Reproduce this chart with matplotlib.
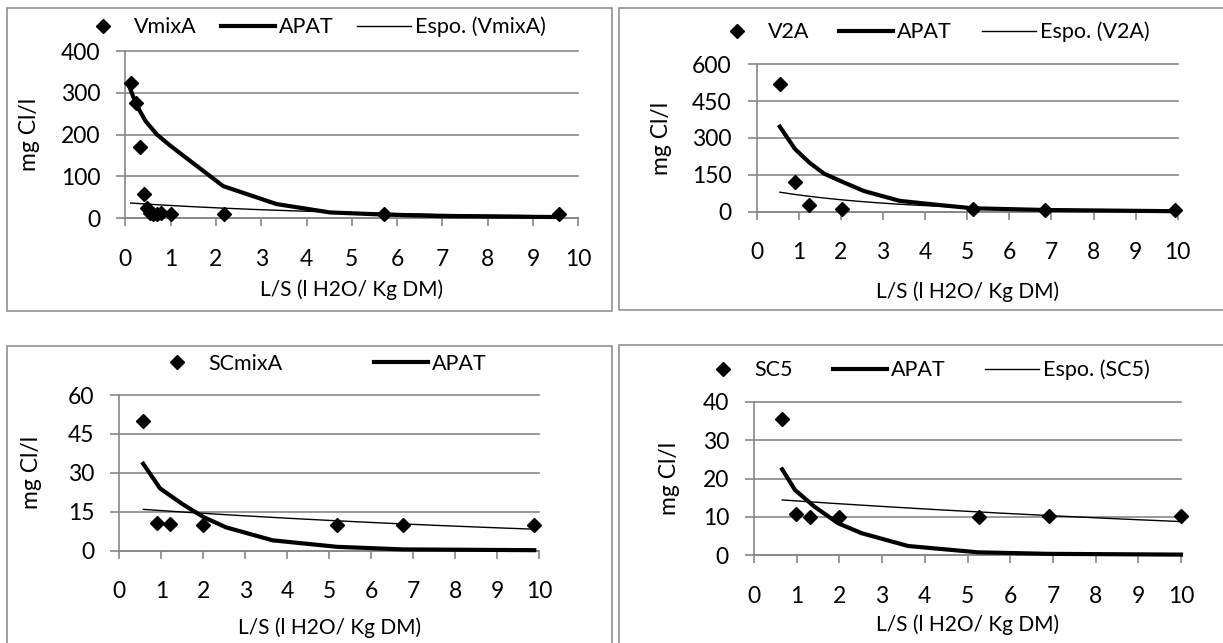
import numpy as np
import matplotlib
matplotlib.use("Agg")
import matplotlib.pyplot as plt
from matplotlib.patches import Rectangle

W, H = 1223, 643
GRID = "#878787"
FS_TICK = 16.5
FS_LAB = 15
FS_YLAB = 16.5
FS_LEG = 15.5

plt.rcParams['font.family'] = ['Lato', 'DejaVu Sans']

# VmixA
vmix_x = [0.12, 0.24, 0.32, 0.42, 0.49, 0.55, 0.62, 0.70, 0.78, 1.0, 2.17, 5.7, 9.58]
vmix_y = [324, 275, 170, 57, 24, 12, 10, 10, 12, 10, 10, 10, 10]
vmix_apat_x = [0.08, 0.24, 0.45, 0.7, 1.0, 2.16, 3.34, 4.52, 5.7, 7.0, 9.6]
vmix_apat_y = [318, 272, 232, 200, 173, 77, 34, 14, 9, 5, 3]

# V2A
v2a_x = [0.55, 0.91, 1.25, 2.03, 5.13, 6.85, 9.94]
v2a_y = [518, 120, 27, 11, 10, 7, 7]
v2a_apat_x = [0.55, 0.91, 1.25, 1.6, 2.03, 2.55, 3.4, 4.35, 5.13, 6.85, 9.94]
v2a_apat_y = [346, 255, 200, 155, 122, 84, 44, 27, 14, 7, 2]

# SCmixA
scmix_x = [0.57, 0.89, 1.21, 2.0, 5.18, 6.75, 9.88]
scmix_y = [50, 10.5, 10.2, 10, 10, 10, 10]
scmix_apat_x = [0.57, 0.97, 1.5, 2.0, 2.54, 3.65, 5.18, 6.75, 9.88]
scmix_apat_y = [33.5, 24, 18, 13, 9, 4, 1.5, 0.5, 0.2]

# SC5
sc5_x = [0.66, 0.98, 1.30, 1.98, 5.28, 6.92, 10.0]
sc5_y = [35.5, 10.6, 10.0, 10.0, 10.0, 10.1, 10.1]
sc5_apat_x = [0.66, 0.96, 1.42, 1.97, 2.52, 3.61, 5.25, 6.9, 10.0]
sc5_apat_y = [22.4, 17, 12.6, 8.3, 5.7, 2.35, 0.7, 0.3, 0.1]

xlabel = "L/S (l H2O/ Kg DM)"
ylabel = "mg Cl/l"


def px_rect(x0, y0, x1, y1):
    return [x0 / W, 1 - y1 / H, (x1 - x0) / W, (y1 - y0) / H]


def fpt(x, y):
    return (x / W, 1 - y / H)


def expo_trend(x, y):
    # exponential trendline: least squares on ln(y)
    b, a = np.polyfit(x, np.log(y), 1)
    xs = np.linspace(min(x), max(x), 200)
    return xs, np.exp(a + b * xs)


em = FS_LEG * 100 / 72  # legend font size in px

panels = [
    dict(name="VmixA", x=vmix_x, y=vmix_y, ax_=vmix_apat_x, ay=vmix_apat_y,
         yticks=[0, 100, 200, 300, 400], box=(125.3, 51, 578.3, 218.3),
         frame=(7, 8, 612, 311), trend_leg=True, leg=(76, 27), colsp=24,
         xlab_y=290, ylab_x=29),
    dict(name="V2A", x=v2a_x, y=v2a_y, ax_=v2a_apat_x, ay=v2a_apat_y,
         yticks=[0, 150, 300, 450, 600], box=(756.7, 64.3, 1177.7, 211.7),
         frame=(619, 8, 1240, 310), trend_leg=True, leg=(710, 32), colsp=30,
         xlab_y=292, ylab_x=661),
    dict(name="SCmixA", x=scmix_x, y=scmix_y, ax_=scmix_apat_x, ay=scmix_apat_y,
         yticks=[0, 15, 30, 45, 60], box=(119.3, 395, 539.3, 550.7),
         frame=(7, 346, 612, 660), trend_leg=False, leg=(150, 364), colsp=92,
         xlab_y=628, ylab_x=31),
    dict(name="SC5", x=sc5_x, y=sc5_y, ax_=sc5_apat_x, ay=sc5_apat_y,
         yticks=[0, 10, 20, 30, 40], box=(754, 402, 1181, 555),
         frame=(619, 345, 1240, 660), trend_leg=True, leg=(696, 370), colsp=40,
         xlab_y=625, ylab_x=669),
]

fig = plt.figure(figsize=(W / 100, H / 100), dpi=100)

for p in panels:
    fx0, fy0, fx1, fy1 = p["frame"]
    fig.add_artist(Rectangle(fpt(fx0, fy1), (fx1 - fx0) / W, (fy1 - fy0) / H,
                             transform=fig.transFigure, fill=False,
                             edgecolor=GRID, lw=1.1))

    bx0, by0, bx1, by1 = p["box"]
    ax = fig.add_axes(px_rect(bx0, by0, bx1, by1))
    ax.set_xlim(0, 10)
    ax.set_ylim(0, p["yticks"][-1])
    ax.set_xticks(range(11))
    ax.set_yticks(p["yticks"])
    for s in ["top", "right"]:
        ax.spines[s].set_visible(False)
    for s in ["left", "bottom"]:
        ax.spines[s].set_color(GRID)
        ax.spines[s].set_linewidth(1.2)
    ax.yaxis.grid(True, color=GRID, lw=1.2)
    ax.set_axisbelow(True)
    for gl in ax.get_ygridlines():
        gl.set_clip_on(False)
    ax.tick_params(axis="x", direction="out", length=6, width=1.2, color=GRID,
                   pad=16, labelsize=FS_TICK)
    ax.tick_params(axis="y", direction="out", length=6.5, width=1.2, color=GRID,
                   pad=11.5, labelsize=FS_TICK)

    ln_apat, = ax.plot(p["ax_"], p["ay"], color="black", lw=3,
                       solid_joinstyle="round", clip_on=False, zorder=3)
    tx, ty = expo_trend(p["x"], p["y"])
    ln_trend, = ax.plot(tx, ty, color="black", lw=1, clip_on=False, zorder=2)
    ln_pts, = ax.plot(p["x"], p["y"], "D", color="black", ms=7, ls="none",
                      clip_on=False, zorder=4)

    handles = [ln_pts, ln_apat]
    labels = [p["name"], "APAT"]
    if p["trend_leg"]:
        handles.append(ln_trend)
        labels.append("Espo. (%s)" % p["name"])
    ax.legend(handles, labels, loc="center left", bbox_to_anchor=fpt(*p["leg"]),
              bbox_transform=fig.transFigure, ncol=3, frameon=False,
              borderpad=0, borderaxespad=0, handlelength=54 / em,
              handletextpad=4 / em, columnspacing=p["colsp"] / em,
              fontsize=FS_LEG, numpoints=1)

    ax.set_xlabel(xlabel, fontsize=FS_LAB)
    ax.xaxis.label.set_va("center")
    ax.xaxis.set_label_coords((bx0 + bx1) / 2 / W, 1 - p["xlab_y"] / H,
                              transform=fig.transFigure)
    ax.set_ylabel(ylabel, fontsize=FS_YLAB)
    ax.yaxis.label.set_va("center")
    ax.yaxis.set_label_coords(p["ylab_x"] / W, 1 - (by0 + by1) / 2 / H,
                              transform=fig.transFigure)

fig.savefig("out.png", dpi=100)
